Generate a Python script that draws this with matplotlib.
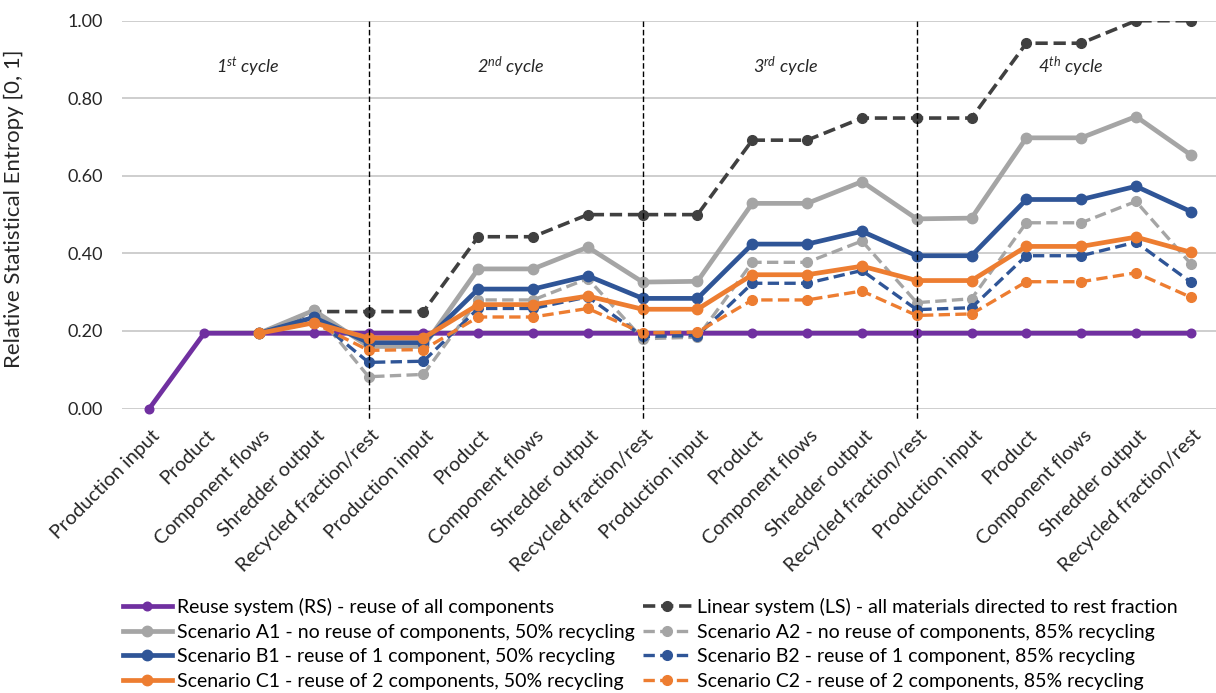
import numpy as np
import matplotlib.pyplot as plt
import matplotlib.transforms as mtransforms

plt.rcParams['font.family'] = ['Lato', 'DejaVu Sans']
plt.rcParams['mathtext.fontset'] = 'custom'
plt.rcParams['mathtext.it'] = 'Lato:italic'
plt.rcParams['mathtext.rm'] = 'Lato:italic'

nan = np.nan

# étapes du cycle, répétées 4 fois
etapes = ["Production input", "Product", "Component flows",
          "Shredder output", "Recycled fraction/rest"]
categories = etapes * 4

rs = [0.0] + [0.194] * 19
ls = [nan, nan, 0.194, 0.250, 0.250, 0.250, 0.443, 0.443, 0.500, 0.500,
      0.500, 0.692, 0.692, 0.749, 0.749, 0.749, 0.942, 0.942, 1.000, 1.000]
a1 = [nan, nan, 0.194, 0.253, 0.160, 0.160, 0.360, 0.360, 0.416, 0.326,
      0.328, 0.529, 0.529, 0.585, 0.489, 0.491, 0.698, 0.698, 0.753, 0.654]
a2 = [nan, nan, 0.194, 0.253, 0.082, 0.088, 0.280, 0.280, 0.335, 0.180,
      0.184, 0.377, 0.377, 0.432, 0.273, 0.283, 0.479, 0.479, 0.534, 0.373]
b1 = [nan, nan, 0.194, 0.235, 0.170, 0.170, 0.308, 0.308, 0.342, 0.284,
      0.284, 0.424, 0.424, 0.457, 0.394, 0.394, 0.539, 0.539, 0.573, 0.508]
b2 = [nan, nan, 0.194, 0.235, 0.119, 0.122, 0.258, 0.258, 0.288, 0.186,
      0.188, 0.323, 0.323, 0.356, 0.255, 0.260, 0.394, 0.394, 0.429, 0.326]
c1 = [nan, nan, 0.194, 0.221, 0.182, 0.182, 0.268, 0.268, 0.290, 0.256,
      0.256, 0.345, 0.345, 0.367, 0.330, 0.330, 0.418, 0.418, 0.442, 0.403]
c2 = [nan, nan, 0.194, 0.221, 0.150, 0.152, 0.236, 0.236, 0.258, 0.195,
      0.197, 0.280, 0.280, 0.303, 0.240, 0.244, 0.327, 0.327, 0.350, 0.287]

noms = {
    'rs': "Reuse system (RS) - reuse of all components",
    'ls': "Linear system (LS) - all materials directed to rest fraction",
    'a1': "Scenario A1 - no reuse of components, 50% recycling",
    'a2': "Scenario A2 - no reuse of components, 85% recycling",
    'b1': "Scenario B1 - reuse of 1 component, 50% recycling",
    'b2': "Scenario B2 - reuse of 1 component, 85% recycling",
    'c1': "Scenario C1 - reuse of 2 components, 50% recycling",
    'c2': "Scenario C2 - reuse of 2 components, 85% recycling",
}
cycles = [r"$1^{st}$ cycle", r"$2^{nd}$ cycle", r"$3^{rd}$ cycle", r"$4^{th}$ cycle"]
pos_cycles = [1.8, 6.6, 11.6, 16.8]
separations = [4, 9, 14]

violet = '#7030A0'
noir = '#404040'
gris = '#A5A5A5'
bleu = '#2F5597'
orange = '#ED7D31'

x = np.arange(len(categories))

fig = plt.figure(figsize=(12.16, 6.93), dpi=100)
ax = fig.add_axes([0.1003, 0.4105, 0.8997, 0.5596])

tirets = (3.4, 1.6)
h = {}
h['rs'], = ax.plot(x, rs, color=violet, lw=3.4, marker='o', ms=6.2, zorder=2, clip_on=False)
h['ls'], = ax.plot(x, ls, color=noir, lw=2.6, ls='--', dashes=tirets, marker='o', ms=7, zorder=3)
h['a1'], = ax.plot(x, a1, color=gris, lw=3.4, marker='o', ms=7.5, zorder=3)
h['a2'], = ax.plot(x, a2, color=gris, lw=2.4, ls='--', dashes=tirets, marker='o', ms=7, zorder=3)
h['b1'], = ax.plot(x, b1, color=bleu, lw=3.4, marker='o', ms=7.5, zorder=3)
h['b2'], = ax.plot(x, b2, color=bleu, lw=2.4, ls='--', dashes=tirets, marker='o', ms=7, zorder=3)
h['c1'], = ax.plot(x, c1, color=orange, lw=3.4, marker='o', ms=7.5, zorder=3)
h['c2'], = ax.plot(x, c2, color=orange, lw=2.4, ls='--', dashes=tirets, marker='o', ms=7, zorder=3)

for s in separations:
    ax.plot([s, s], [1.0, -0.026], color='black', lw=1.0, ls=(0, (4, 2)),
            clip_on=False, zorder=4)

for p, t in zip(pos_cycles, cycles):
    ax.text(p, 0.88, t, ha='center', va='center', fontsize=13, style='italic', color='#262626')

ax.set_xlim(-0.5, 19.46)
ax.set_ylim(0, 1.0)
ax.set_yticks(np.arange(0, 1.01, 0.2))
ax.set_yticklabels([f"{v:.2f}" for v in np.arange(0, 1.01, 0.2)])
ax.yaxis.grid(True, color='#C6C6C6', lw=1.2)
ax.set_axisbelow(True)
for sp in ax.spines.values():
    sp.set_visible(False)

ax.set_xticks(x)
ax.set_xticklabels(categories, rotation=45, ha='right', va='top', rotation_mode='anchor')
ax.tick_params(axis='both', length=0, labelcolor='#262626')
ax.tick_params(axis='x', pad=13, labelsize=14.2)
ax.tick_params(axis='y', pad=14, labelsize=13)
decal = mtransforms.ScaledTranslation(2 / 100, 0, fig.dpi_scale_trans)
for lab in ax.get_xticklabels():
    lab.set_transform(lab.get_transform() + decal)

ax.set_ylabel("Relative Statistical Entropy [0, 1]", fontsize=16, color='#262626')
ax.yaxis.set_label_coords(-0.09, 0.515)

# légende sur deux colonnes
col1 = ['rs', 'a1', 'b1', 'c1']
col2 = ['ls', 'a2', 'b2', 'c2']
for cles, x0 in [(col1, 123 / 1216), (col2, 643 / 1216)]:
    fig.legend([h[k] for k in cles], [noms[k] for k in cles], loc='upper left',
               bbox_to_anchor=(x0, 1 - 598 / 693), frameon=False, fontsize=14,
               borderpad=0, borderaxespad=0, handlelength=2.5, handletextpad=0.3,
               labelspacing=0.39)

fig.savefig('out.png', dpi=100)
